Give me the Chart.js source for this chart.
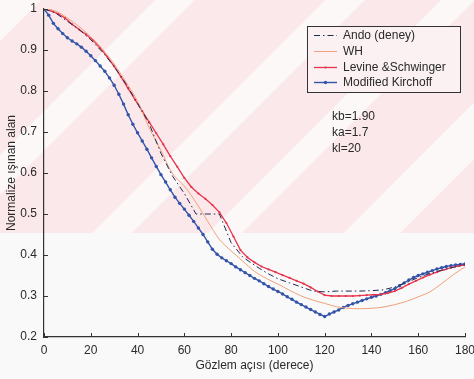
<!DOCTYPE html>
<html>
<head>
<meta charset="utf-8">
<script src="https://cdn.jsdelivr.net/npm/chart.js@4.4.0/dist/chart.umd.min.js"></script>
<style>
html,body{margin:0;padding:0;background:#fafafa;}
#wrap{width:474px;height:379px;position:relative;}
</style>
</head>
<body>
<div id="wrap"><canvas id="c" width="474" height="379"></canvas></div>
<script>
// ---- data ----
const seriesNames = ["Ando (deney)", "WH", "Levine &Schwinger", "Modified Kirchoff"];
const xTicks = [0, 20, 40, 60, 80, 100, 120, 140, 160, 180];
const yTicks = [0.2, 0.3, 0.4, 0.5, 0.6, 0.7, 0.8, 0.9, 1];
const notes = ["kb=1.90", "ka=1.7", "kl=20"];

const andoAngles = [0,5,10,15,20,25,30,35,40,45,50,55,60,65,70,75,78,80,85,90,95,100,105,110,115,120,125,130,135,140,145,150,155,160,165,170,175,180];
const andoValues = [1.0,0.99,0.97,0.95,0.925,0.895,0.86,0.818,0.77,0.72,0.648,0.592,0.55,0.5,0.5,0.5,0.458,0.43,0.395,0.375,0.357,0.342,0.332,0.322,0.312,0.31,0.312,0.312,0.312,0.313,0.315,0.322,0.333,0.345,0.355,0.363,0.37,0.376];

const whAngles = [0,5,10,15,20,25,30,35,40,45,50,55,60,65,70,75,80,85,90,95,100,105,110,115,120,125,130,135,140,145,150,155,160,165,170,175,180];
const whValues = [1.0,0.995,0.978,0.957,0.932,0.902,0.866,0.822,0.775,0.71,0.655,0.598,0.568,0.528,0.482,0.438,0.41,0.385,0.36,0.343,0.329,0.314,0.3,0.29,0.282,0.274,0.27,0.269,0.27,0.273,0.279,0.287,0.298,0.31,0.33,0.352,0.371];

const lsAngles = [0,3,6,9,12,15,18,21,24,27,30,33,36,39,42,45,48,51,54,57,60,63,66,69,72,75,78,81,84,87,90,93,96,99,102,105,108,111,114,117,120,123,126,129,132,135,138,141,144,147,150,153,156,159,162,165,168,171,174,177,180];
const lsValues = [1.0,0.996,0.988,0.978,0.963,0.95,0.938,0.924,0.905,0.884,0.86,0.834,0.806,0.778,0.751,0.724,0.697,0.67,0.641,0.615,0.588,0.566,0.55,0.537,0.522,0.504,0.478,0.445,0.412,0.394,0.382,0.372,0.365,0.358,0.351,0.344,0.337,0.33,0.321,0.311,0.302,0.3,0.3,0.3,0.3,0.301,0.302,0.303,0.304,0.307,0.312,0.32,0.329,0.337,0.345,0.352,0.358,0.364,0.369,0.373,0.376];

const mkAngles = [0,2,4,6,8,10,12,14,16,18,20,22,24,26,28,30,32,34,36,38,40,42,44,46,48,50,52,54,56,58,60,62,64,66,68,70,72,74,76,78,80,82,84,86,88,90,92,94,96,98,100,102,104,106,108,110,112,114,116,118,120,122,124,126,128,130,132,134,136,138,140,142,144,146,148,150,152,154,156,158,160,162,164,166,168,170,172,174,176,178,180];
const mkValues = [1.0,0.985,0.965,0.952,0.94,0.93,0.922,0.915,0.907,0.897,0.886,0.874,0.861,0.848,0.832,0.814,0.792,0.768,0.742,0.719,0.698,0.678,0.658,0.637,0.616,0.596,0.578,0.559,0.541,0.526,0.512,0.497,0.482,0.466,0.45,0.432,0.414,0.402,0.393,0.386,0.379,0.371,0.364,0.357,0.35,0.343,0.337,0.33,0.323,0.317,0.311,0.305,0.298,0.292,0.285,0.279,0.273,0.267,0.261,0.255,0.25,0.256,0.261,0.266,0.272,0.277,0.281,0.285,0.289,0.293,0.297,0.3,0.304,0.308,0.313,0.318,0.325,0.332,0.339,0.345,0.35,0.354,0.358,0.362,0.366,0.369,0.372,0.374,0.376,0.377,0.378];

const colors = {ando:'#1e2a55', wh:'#f2a07a', ls:'#e8344c', mk:'#3454a8', axis:'#333333', text:'#2a2a2a'};
const FONT = '"Liberation Sans", Arial, sans-serif';

function pts(a, v){ return a.map((x,i)=>({x:x, y:v[i]})); }

const bgPlugin = {
  id:'bg',
  beforeDraw(chart){
    const ctx = chart.ctx;
    ctx.save();
    ctx.fillStyle = '#f9f9f9';
    ctx.fillRect(0,0,474,379);
    // watermark-like pink band with white diagonal stripes
    ctx.beginPath(); ctx.rect(0,0,474,233); ctx.clip();
    ctx.fillStyle = '#fbe8eb';
    ctx.fillRect(0,0,474,233);
    ctx.strokeStyle = '#fcf8f8';
    ctx.lineCap = 'butt';
    const stripes = [[20,30],[175,28],[345,28],[458,24],[605,40]];
    stripes.forEach(([c,w])=>{
      ctx.lineWidth = w;
      ctx.beginPath(); ctx.moveTo(c+400, -400); ctx.lineTo(c-400, 400); ctx.stroke();
    });
    ctx.restore();
  }
};

const decoPlugin = {
  id:'deco',
  afterDraw(chart){
    const ctx = chart.ctx, xs = chart.scales.x, ys = chart.scales.y, ca = chart.chartArea;
    ctx.save();
    // inward tick marks
    ctx.strokeStyle = colors.axis; ctx.lineWidth = 1;
    xTicks.forEach(t=>{ const px = Math.round(xs.getPixelForValue(t))+0.5; ctx.beginPath(); ctx.moveTo(px, ca.bottom); ctx.lineTo(px, ca.bottom-4); ctx.stroke(); });
    yTicks.forEach(t=>{ const py = Math.round(ys.getPixelForValue(t))+0.5; ctx.beginPath(); ctx.moveTo(ca.left, py); ctx.lineTo(ca.left+4, py); ctx.stroke(); });
    // axis titles
    ctx.fillStyle = colors.text; ctx.font = '12px ' + FONT;
    ctx.textAlign = 'center'; ctx.textBaseline = 'middle';
    ctx.fillText('Gözlem açısı (derece)', (ca.left+ca.right)/2, 366);
    ctx.save(); ctx.translate(12, (ca.top+ca.bottom)/2); ctx.rotate(-Math.PI/2);
    ctx.fillText('Normalize ışınan alan', 0, 0); ctx.restore();
    // legend box
    const bx = 307, by = 26, bw = 153, bh = 66;
    ctx.fillStyle = '#fbf1f2'; ctx.fillRect(bx, by, bw, bh);
    ctx.strokeStyle = '#333'; ctx.lineWidth = 1; ctx.strokeRect(bx+0.5, by+0.5, bw, bh);
    const rows = [35, 51, 67, 82];
    const ds = chart.data.datasets;
    ds.forEach((d,i)=>{
      const y = rows[i] + 0.5;
      ctx.strokeStyle = d.borderColor; ctx.lineWidth = d.borderWidth;
      ctx.setLineDash(d.borderDash || []);
      ctx.beginPath(); ctx.moveTo(314, y); ctx.lineTo(337, y); ctx.stroke();
      ctx.setLineDash([]);
      if (d.pointRadius > 0) { ctx.fillStyle = d.borderColor; ctx.beginPath(); ctx.arc(325.5, y, d.pointRadius, 0, Math.PI*2); ctx.fill(); }
      ctx.fillStyle = colors.text; ctx.textAlign = 'left'; ctx.textBaseline = 'middle'; ctx.font = '12px ' + FONT;
      ctx.fillText(d.label, 343, rows[i]+1);
    });
    // parameter notes
    notes.forEach((n,i)=>{ ctx.fillText(n, 332, 117 + i*16); });
    ctx.restore();
  }
};

new Chart(document.getElementById('c'), {
  type:'line',
  data:{
    datasets:[
      {label:seriesNames[0], data:pts(andoAngles, andoValues), borderColor:colors.ando, borderWidth:1, borderDash:[6,3,1.5,3], pointRadius:0, tension:0},
      {label:seriesNames[1], data:pts(whAngles, whValues), borderColor:colors.wh, borderWidth:1, pointRadius:0, tension:0.3},
      {label:seriesNames[2], data:pts(lsAngles, lsValues), borderColor:colors.ls, backgroundColor:colors.ls, borderWidth:1.3, pointRadius:1.1, pointBorderWidth:0, tension:0},
      {label:seriesNames[3], data:pts(mkAngles, mkValues), borderColor:colors.mk, backgroundColor:colors.mk, borderWidth:1.4, pointRadius:1.7, pointBorderWidth:0, tension:0}
    ]
  },
  options:{
    responsive:false, animation:false,
    layout:{padding:{top:9, right:9, left:0, bottom:0}},
    plugins:{legend:{display:false}, tooltip:{enabled:false}},
    scales:{
      x:{type:'linear', min:0, max:180,
        afterBuildTicks(s){ s.ticks = xTicks.map(v=>({value:v})); },
        afterFit(s){ s.height = 42; s.paddingLeft = 0; s.paddingRight = 0; },
        grid:{display:false, drawTicks:false},
        border:{display:true, color:colors.axis, width:1.2},
        ticks:{padding:6, color:colors.text, font:{family:FONT, size:12}, maxRotation:0, autoSkip:false}
      },
      y:{type:'linear', min:0.2, max:1,
        afterBuildTicks(s){ s.ticks = yTicks.map(v=>({value:v})); },
        afterFit(s){ s.width = 44; s.paddingTop = 0; s.paddingBottom = 0; },
        grid:{display:false, drawTicks:false},
        border:{display:true, color:colors.axis, width:1.2},
        ticks:{padding:7, color:colors.text, font:{family:FONT, size:12}, autoSkip:false, callback:v=>String(Number(v.toFixed(1)))}
      }
    }
  },
  plugins:[bgPlugin, decoPlugin]
});
</script>
</body>
</html>
